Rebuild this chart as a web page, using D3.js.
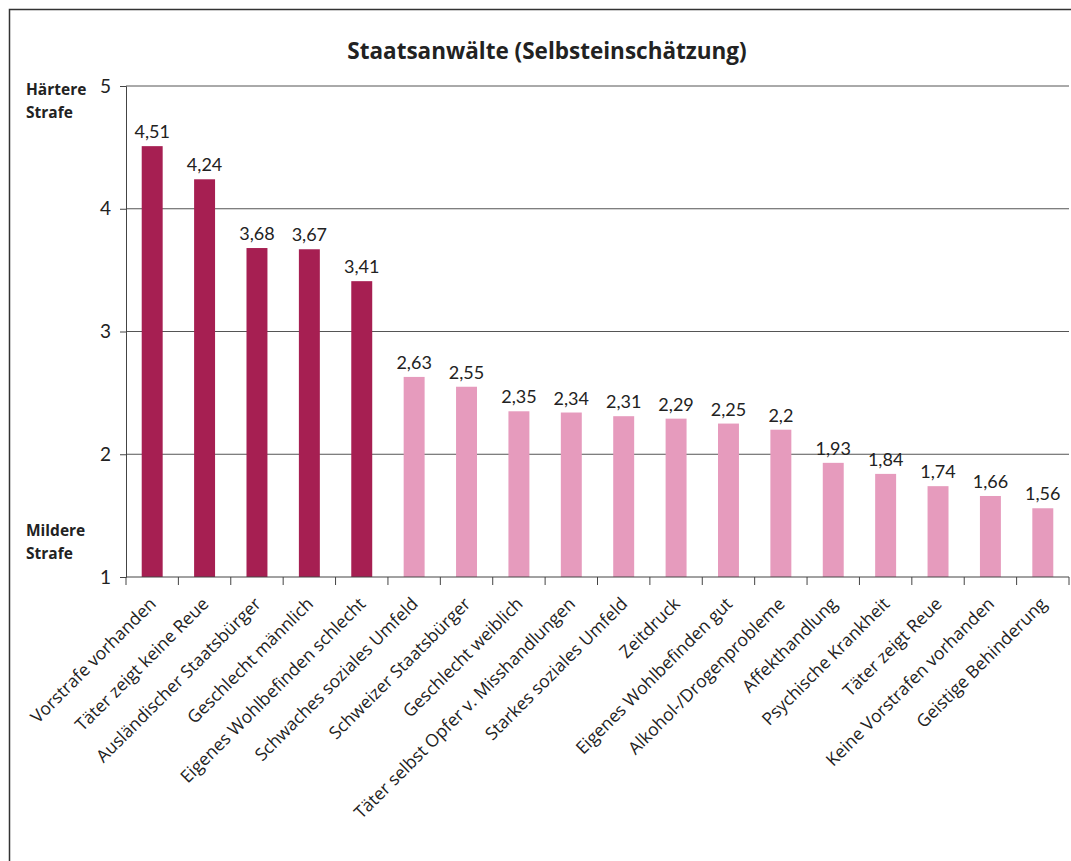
<!DOCTYPE html>
<html>
<head>
<meta charset="utf-8">
<script src="https://cdn.jsdelivr.net/npm/d3@7"></script>
<style>
  body { margin: 0; background: #fff; }
  svg { display: block; }
</style>
</head>
<body>
<svg id="chart"></svg>
<script>
// data
const categories = [
  "Vorstrafe vorhanden", "Täter zeigt keine Reue", "Ausländischer Staatsbürger",
  "Geschlecht männlich", "Eigenes Wohlbefinden schlecht", "Schwaches soziales Umfeld",
  "Schweizer Staatsbürger", "Geschlecht weiblich", "Täter selbst Opfer v. Misshandlungen",
  "Starkes soziales Umfeld", "Zeitdruck", "Eigenes Wohlbefinden gut",
  "Alkohol-/Drogenprobleme", "Affekthandlung", "Psychische Krankheit",
  "Täter zeigt Reue", "Keine Vorstrafen vorhanden", "Geistige Behinderung"
];
const values = [4.51, 4.24, 3.68, 3.67, 3.41, 2.63, 2.55, 2.35, 2.34, 2.31, 2.29, 2.25, 2.2, 1.93, 1.84, 1.74, 1.66, 1.56];
const harsher = [true, true, true, true, true, false, false, false, false, false, false, false, false, false, false, false, false, false];
const yTicks = [1, 2, 3, 4, 5];

const W = 1071, H = 861;
const svg = d3.select("#chart").attr("width", W).attr("height", H);

// frame
svg.append("rect")
  .attr("x", 9.5).attr("y", 9.5)
  .attr("width", 1080).attr("height", 900)
  .attr("fill", "none").attr("stroke", "#333").attr("stroke-width", 1.5);

const mLeft = 126, mRight = 1069, mTop = 86, mBottom = 577;

const x = d3.scaleBand().domain(categories).range([mLeft, mRight]).paddingInner(0.6).paddingOuter(0.3);
const y = d3.scaleLinear().domain([1, 5]).range([mBottom, mTop]);

// title
svg.append("text")
  .attr("x", 547).attr("y", 59)
  .attr("text-anchor", "middle")
  .attr("font-family", "'Open Sans', sans-serif")
  .attr("font-weight", "bold")
  .attr("font-size", 22.5)
  .attr("fill", "#222")
  .text("Staatsanwälte (Selbsteinschätzung)");

// gridlines
svg.append("g").selectAll("line")
  .data(yTicks.filter(d => d > 1))
  .join("line")
  .attr("x1", mLeft).attr("x2", mRight)
  .attr("y1", d => y(d)).attr("y2", d => y(d))
  .attr("stroke", "#555").attr("stroke-width", 1);

// bars
svg.append("g").selectAll("rect")
  .data(values)
  .join("rect")
  .attr("x", (d, i) => x(categories[i]))
  .attr("width", x.bandwidth())
  .attr("y", d => y(d))
  .attr("height", d => y(1) - y(d))
  .attr("fill", (d, i) => harsher[i] ? "#a61f52" : "#e69bbd");

// value labels
svg.append("g").selectAll("text")
  .data(values)
  .join("text")
  .attr("x", (d, i) => x(categories[i]) + x.bandwidth() / 2)
  .attr("y", d => y(d) - 8)
  .attr("text-anchor", "middle")
  .attr("font-family", "Lato, sans-serif")
  .attr("font-size", 18)
  .attr("fill", "#222")
  .text(d => String(d).replace(".", ","));

// y axis
const yAxis = svg.append("g")
  .attr("transform", `translate(${mLeft},0)`)
  .call(d3.axisLeft(y).tickValues(yTicks).tickSize(6).tickFormat(d3.format("d")));
yAxis.select(".domain").attr("stroke", "#444");
yAxis.selectAll(".tick line").attr("stroke", "#444");
yAxis.selectAll(".tick text")
  .attr("font-family", "Lato, sans-serif")
  .attr("font-size", 19)
  .attr("fill", "#222")
  .attr("x", -15);

// x axis
const xAxis = svg.append("g")
  .attr("transform", `translate(0,${mBottom})`)
  .call(d3.axisBottom(x).tickSize(0).tickFormat(""));
xAxis.select(".domain").attr("stroke", "#444").attr("d", `M${mLeft},0H${mRight}`);

const tickPos = d3.range(categories.length + 1).map(i => mLeft + i * (mRight - mLeft) / categories.length);
svg.append("g").selectAll("line")
  .data(tickPos)
  .join("line")
  .attr("x1", d => d).attr("x2", d => d)
  .attr("y1", mBottom).attr("y2", mBottom + 8)
  .attr("stroke", "#444");

// category labels
svg.append("g").selectAll("text")
  .data(categories)
  .join("text")
  .attr("transform", d => `translate(${x(d) + x.bandwidth() / 2 + 5},${mBottom + 28}) rotate(-45)`)
  .attr("text-anchor", "end")
  .attr("font-family", "'Open Sans', sans-serif")
  .attr("font-size", 17.5)
  .attr("fill", "#222")
  .text(d => d);

// side labels
const side = [
  { lines: ["Härtere", "Strafe"], y: 95 },
  { lines: ["Mildere", "Strafe"], y: 536 }
];
side.forEach(s => {
  s.lines.forEach((t, i) => {
    svg.append("text")
      .attr("x", 26).attr("y", s.y + i * 23)
      .attr("font-family", "'Open Sans', sans-serif")
      .attr("font-weight", "bold")
      .attr("font-size", 15.5)
      .attr("fill", "#222")
      .text(t);
  });
});
</script>
</body>
</html>
